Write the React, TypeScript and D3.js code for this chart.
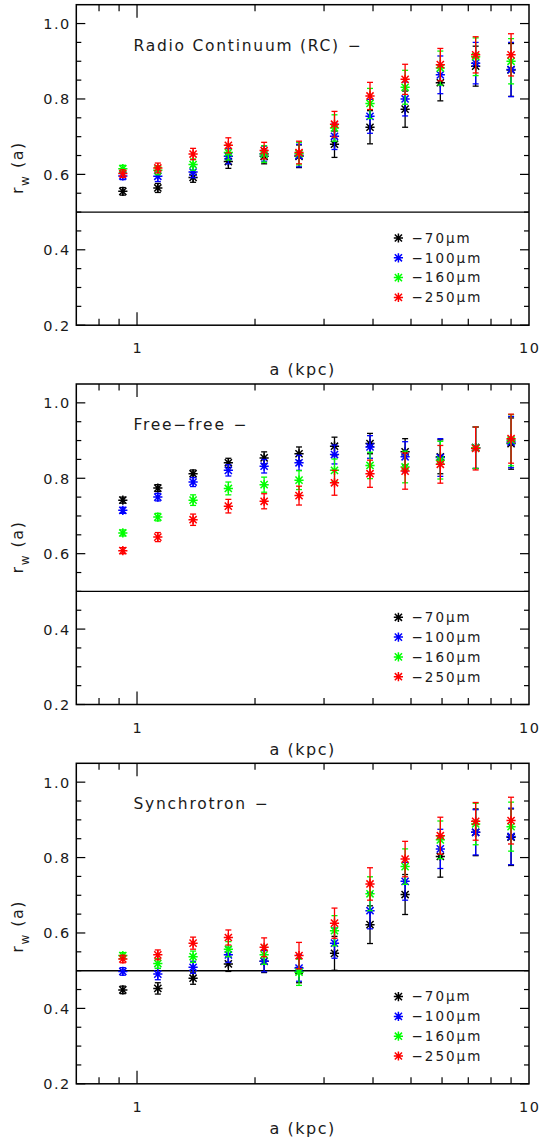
import * as d3 from "d3";

// galactocentric radius of each bin (kpc)
const radii = [0.92, 1.13, 1.39, 1.71, 2.11, 2.59, 3.19, 3.93, 4.83, 5.94, 7.31, 9.0];

const bandLabels = ["\u221270\u03bcm", "\u2212100\u03bcm", "\u2212160\u03bcm", "\u2212250\u03bcm"];
const bandColors = ["#000000", "#0000ff", "#00ff00", "#ff0000"];

const panelTitles = ["Radio Continuum (RC)", "Free\u2212free", "Synchrotron"];

const xTickLabels = [1, 10];
const yTickLabels = [0.2, 0.4, 0.6, 0.8, 1.0];

// Radio continuum
const rc70 = [0.555, 0.564, 0.592, 0.634, 0.648, 0.648, 0.680, 0.725, 0.773, 0.843, 0.887, 0.877];
const rc100 = [0.596, 0.595, 0.606, 0.648, 0.655, 0.650, 0.701, 0.754, 0.800, 0.864, 0.895, 0.878];
const rc160 = [0.615, 0.611, 0.626, 0.658, 0.654, 0.655, 0.723, 0.788, 0.831, 0.882, 0.912, 0.900];
const rc250 = [0.602, 0.617, 0.654, 0.677, 0.663, 0.658, 0.733, 0.808, 0.852, 0.891, 0.917, 0.917];
const rc70Err = [0.010, 0.012, 0.013, 0.018, 0.020, 0.030, 0.035, 0.044, 0.048, 0.048, 0.053, 0.070];
const rc100Err = [0.010, 0.014, 0.015, 0.020, 0.020, 0.030, 0.035, 0.045, 0.045, 0.050, 0.055, 0.072];
const rc160Err = [0.009, 0.012, 0.015, 0.020, 0.022, 0.030, 0.035, 0.040, 0.045, 0.045, 0.050, 0.060];
const rc250Err = [0.010, 0.013, 0.015, 0.020, 0.022, 0.030, 0.034, 0.036, 0.040, 0.043, 0.048, 0.056];

// Free-free
const ff70 = [0.742, 0.774, 0.812, 0.841, 0.854, 0.865, 0.885, 0.892, 0.870, 0.857, 0.881, 0.892];
const ff100 = [0.715, 0.750, 0.790, 0.821, 0.832, 0.841, 0.863, 0.883, 0.857, 0.855, 0.881, 0.896];
const ff160 = [0.655, 0.697, 0.742, 0.773, 0.783, 0.795, 0.821, 0.834, 0.830, 0.848, 0.881, 0.901];
const ff250 = [0.608, 0.644, 0.690, 0.726, 0.739, 0.754, 0.788, 0.812, 0.819, 0.837, 0.879, 0.905];
const ff70Err = [0.008, 0.009, 0.010, 0.012, 0.016, 0.018, 0.024, 0.027, 0.035, 0.045, 0.055, 0.068];
const ff100Err = [0.008, 0.010, 0.012, 0.015, 0.018, 0.020, 0.025, 0.030, 0.040, 0.050, 0.055, 0.068];
const ff160Err = [0.008, 0.010, 0.014, 0.017, 0.020, 0.025, 0.030, 0.035, 0.042, 0.050, 0.055, 0.068];
const ff250Err = [0.008, 0.012, 0.015, 0.018, 0.020, 0.025, 0.033, 0.036, 0.048, 0.050, 0.057, 0.065];

// Synchrotron
const syn70 = [0.449, 0.453, 0.480, 0.518, 0.525, 0.500, 0.546, 0.622, 0.702, 0.803, 0.867, 0.854];
const syn100 = [0.498, 0.491, 0.509, 0.542, 0.525, 0.507, 0.573, 0.659, 0.737, 0.823, 0.867, 0.856];
const syn160 = [0.540, 0.519, 0.537, 0.557, 0.542, 0.496, 0.606, 0.704, 0.776, 0.847, 0.889, 0.882];
const syn250 = [0.531, 0.542, 0.573, 0.588, 0.562, 0.540, 0.626, 0.730, 0.796, 0.858, 0.896, 0.898];
const syn70Err = [0.010, 0.015, 0.016, 0.020, 0.030, 0.032, 0.045, 0.050, 0.053, 0.055, 0.062, 0.075];
const syn100Err = [0.010, 0.015, 0.016, 0.020, 0.028, 0.035, 0.040, 0.048, 0.050, 0.052, 0.060, 0.075];
const syn160Err = [0.008, 0.013, 0.015, 0.020, 0.025, 0.035, 0.040, 0.045, 0.047, 0.050, 0.055, 0.065];
const syn250Err = [0.010, 0.013, 0.016, 0.020, 0.025, 0.035, 0.040, 0.043, 0.047, 0.049, 0.050, 0.062];

const panelValues = [
  [rc70, rc100, rc160, rc250],
  [ff70, ff100, ff160, ff250],
  [syn70, syn100, syn160, syn250],
];
const panelErrors = [
  [rc70Err, rc100Err, rc160Err, rc250Err],
  [ff70Err, ff100Err, ff160Err, ff250Err],
  [syn70Err, syn100Err, syn160Err, syn250Err],
];

const W = 540;
const H = 1142;
const LEFT = 76.3;
const RIGHT = 529;
const TOP0 = 4.7;
const PITCH = 379.3;
const PH = 320.5;
const FONT = "'DejaVu Sans', sans-serif";
const INK = "#1a1a1a";

function asterisk(cx: number, cy: number, r: number) {
  const d = r * 0.78;
  return (
    `M${cx - r},${cy}H${cx + r}M${cx},${cy - r}V${cy + r}` +
    `M${cx - d},${cy - d}L${cx + d},${cy + d}M${cx - d},${cy + d}L${cx + d},${cy - d}`
  );
}

function Panel({ index }: { index: number }) {
  const top = TOP0 + index * PITCH;
  const bottom = top + PH;
  const x = d3.scaleLog().domain([0.7, 10]).range([LEFT, RIGHT]);
  const y = d3.scaleLinear().domain([0.2, 1.05]).range([bottom, top]);

  const yTicks = y.ticks(17).filter((t) => t < 1.049);
  const isMajorY = (t: number) => yTickLabels.some((v) => Math.abs(v - t) < 1e-6);
  const xTicks = x.ticks().filter((t) => t > 0.71 && t < 9.99);
  const isMajorX = (t: number) => xTickLabels.includes(t);

  const values = panelValues[index];
  const errors = panelErrors[index];

  return (
    <g>
      {/* frame ticks */}
      {yTicks.map((t) => {
        const len = isMajorY(t) ? 9 : 5;
        return (
          <g key={`yt-${t}`} stroke="#000" strokeWidth={1.2}>
            <line x1={LEFT} x2={LEFT + len} y1={y(t)} y2={y(t)} />
            <line x1={RIGHT} x2={RIGHT - len} y1={y(t)} y2={y(t)} />
          </g>
        );
      })}
      {xTicks.map((t) => {
        const len = isMajorX(t) ? 13 : 6.5;
        return (
          <g key={`xt-${t}`} stroke="#000" strokeWidth={1.2}>
            <line x1={x(t)} x2={x(t)} y1={bottom} y2={bottom - len} />
            <line x1={x(t)} x2={x(t)} y1={top} y2={top + len} />
          </g>
        );
      })}

      {/* r_w = 0.5 reference line */}
      <line x1={LEFT} x2={RIGHT} y1={y(0.5)} y2={y(0.5)} stroke="#000" strokeWidth={1.4} />

      {/* error bars, then markers */}
      {values.map((series, s) => (
        <g key={`s-${s}`} stroke={bandColors[s]} fill="none">
          {series.map((v, i) => {
            const cx = x(radii[i]);
            const e = errors[s][i];
            return (
              <g key={i}>
                <line x1={cx} x2={cx} y1={y(v - e)} y2={y(v + e)} strokeWidth={1.3} />
                <line x1={cx - 3} x2={cx + 3} y1={y(v - e)} y2={y(v - e)} strokeWidth={1.3} />
                <line x1={cx - 3} x2={cx + 3} y1={y(v + e)} y2={y(v + e)} strokeWidth={1.3} />
                <path d={asterisk(cx, y(v), 4.6)} strokeWidth={1.5} />
              </g>
            );
          })}
        </g>
      ))}

      <rect x={LEFT} y={top} width={RIGHT - LEFT} height={PH} fill="none" stroke="#000" strokeWidth={1.5} />

      {/* tick labels */}
      <g fontFamily={FONT} fill={INK} fontSize={14.5} letterSpacing={1.5}>
        {yTickLabels.map((t) => (
          <text key={`yl-${t}`} x={LEFT - 5.5} y={y(t) + 5.5} textAnchor="end">
            {d3.format(".1f")(t)}
          </text>
        ))}
        {xTickLabels.map((t) => (
          <text key={`xl-${t}`} x={x(t) + 0.8} y={bottom + 28} textAnchor="middle">
            {t}
          </text>
        ))}
      </g>

      {/* axis titles */}
      <text
        x={(LEFT + RIGHT) / 2}
        y={bottom + 50}
        textAnchor="middle"
        fontFamily={FONT}
        fontSize={16}
        letterSpacing={1.5}
        fill={INK}
      >
        a (kpc)
      </text>
      <text
        transform={`translate(22.5, ${top + 163}) rotate(-90)`}
        textAnchor="middle"
        fontFamily={FONT}
        fontSize={16}
        letterSpacing={1.5}
        fill={INK}
      >
        r<tspan fontSize={12} dy={6.5}>w</tspan>
        <tspan dy={-6.5}> (a)</tspan>
      </text>

      {/* panel title */}
      <text
        x={133.5}
        y={top + 46}
        fontFamily={FONT}
        fontSize={15.5}
        letterSpacing={1.75}
        fill={INK}
      >
        {panelTitles[index]}
        <tspan dx={8}>{"\u2212"}</tspan>
      </text>

      {/* legend */}
      {bandLabels.map((label, s) => {
        const ly = top + 233.3 + s * 19.8;
        return (
          <g key={`lg-${s}`}>
            <path d={asterisk(398.4, ly, 4.6)} stroke={bandColors[s]} strokeWidth={1.5} fill="none" />
            <text x={411.5} y={ly + 4.8} fontFamily={FONT} fontSize={13.5} letterSpacing={2} fill={INK}>
              {label}
            </text>
          </g>
        );
      })}
    </g>
  );
}

export default function App() {
  return (
    <div style={{ position: "absolute", left: 0, top: 0, width: W, height: H, background: "#fff" }}>
      <svg width={W} height={H} viewBox={`0 0 ${W} ${H}`} style={{ display: "block" }}>
        <rect width={W} height={H} fill="#fff" />
        {panelTitles.map((_, i) => (
          <Panel key={i} index={i} />
        ))}
      </svg>
    </div>
  );
}
